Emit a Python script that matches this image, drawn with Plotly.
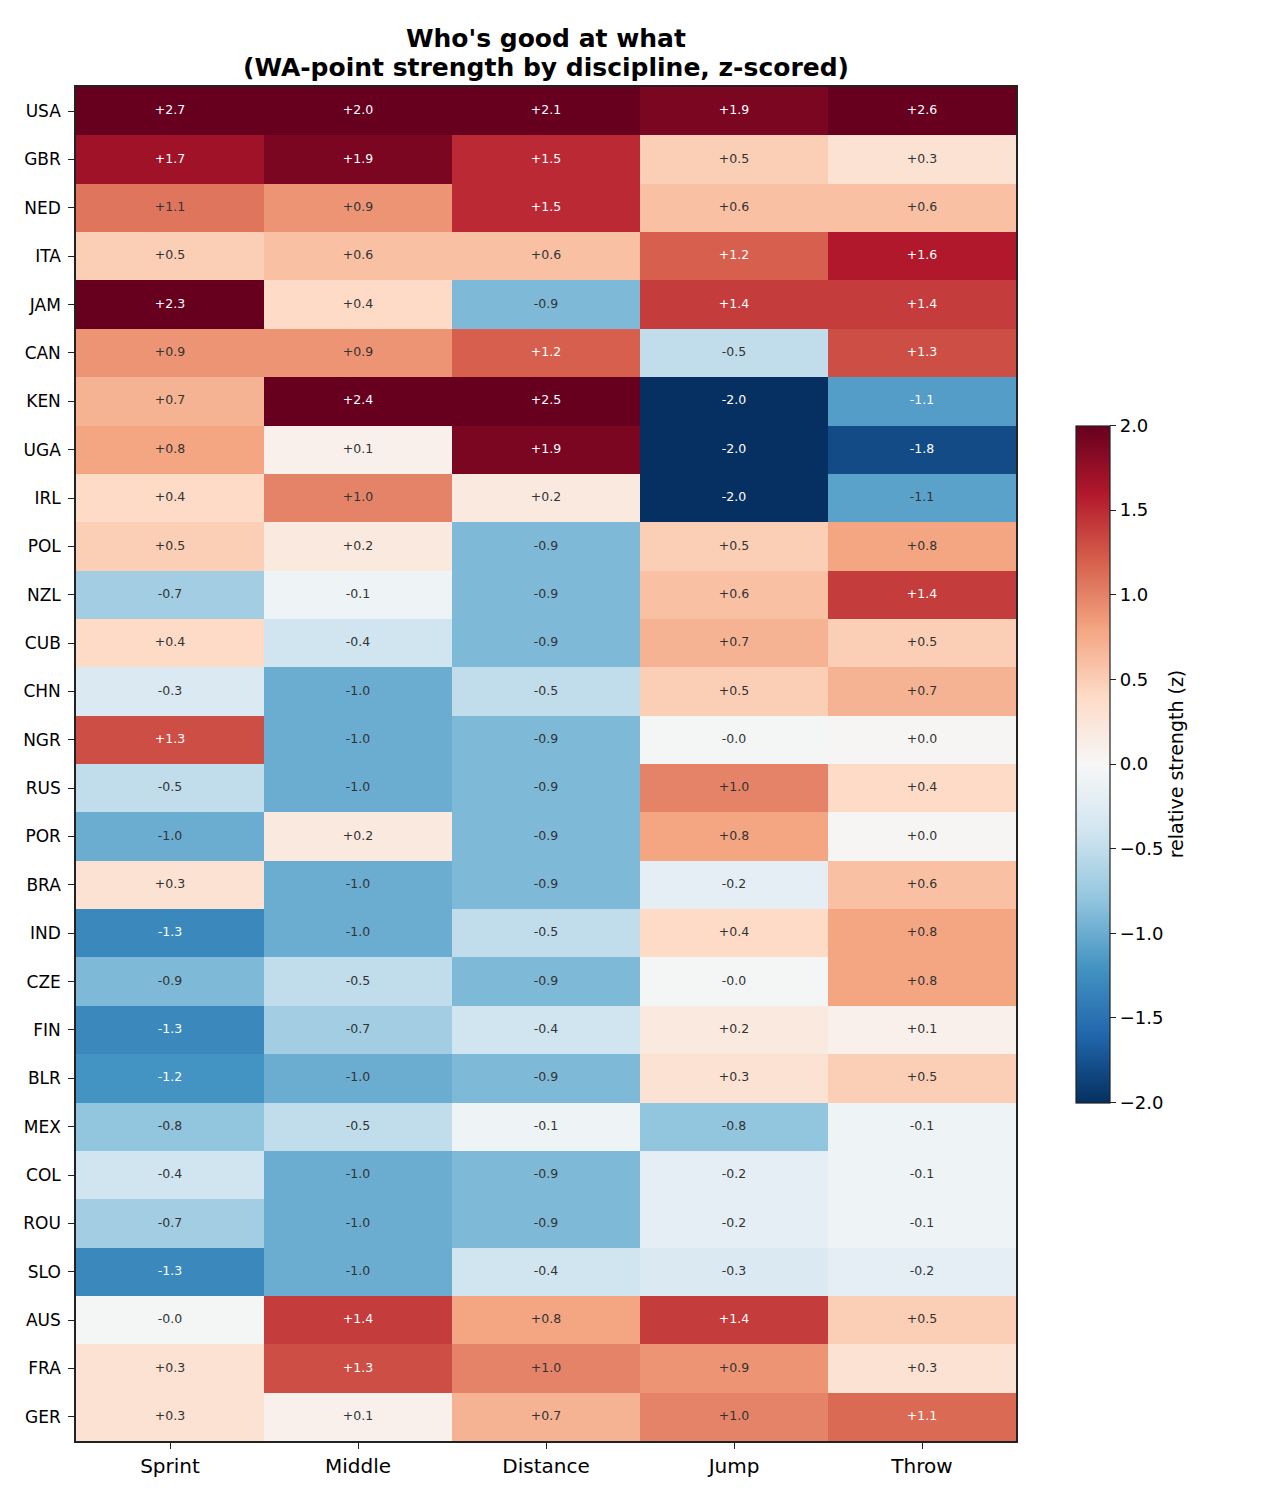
import plotly.graph_objects as go

countries = ["USA", "GBR", "NED", "ITA", "JAM", "CAN", "KEN", "UGA", "IRL", "POL",
             "NZL", "CUB", "CHN", "NGR", "RUS", "POR", "BRA", "IND", "CZE", "FIN",
             "BLR", "MEX", "COL", "ROU", "SLO", "AUS", "FRA", "GER"]
disciplines = ["Sprint", "Middle", "Distance", "Jump", "Throw"]

sprint = [2.7, 1.7, 1.08, 0.5, 2.3, 0.9, 0.7, 0.8, 0.4, 0.5,
          -0.7, 0.4, -0.3, 1.3, -0.5, -1.0, 0.3, -1.3, -0.9, -1.3,
          -1.2, -0.8, -0.4, -0.7, -1.3, -0.03, 0.3, 0.3]
middle = [2.0, 1.9, 0.9, 0.6, 0.4, 0.9, 2.4, 0.1, 1.0, 0.2,
          -0.1, -0.4, -1.0, -1.0, -1.0, 0.2, -1.0, -1.0, -0.5, -0.7,
          -1.0, -0.5, -1.0, -1.0, -1.0, 1.4, 1.3, 0.1]
distance = [2.1, 1.5, 1.5, 0.6, -0.9, 1.2, 2.5, 1.9, 0.2, -0.9,
            -0.9, -0.9, -0.5, -0.9, -0.9, -0.9, -0.9, -0.5, -0.9, -0.4,
            -0.9, -0.1, -0.9, -0.9, -0.4, 0.8, 1.0, 0.7]
jump = [1.9, 0.5, 0.6, 1.2, 1.4, -0.5, -2.0, -2.0, -2.0, 0.5,
        0.6, 0.7, 0.5, -0.03, 1.0, 0.8, -0.2, 0.4, -0.03, 0.2,
        0.3, -0.8, -0.2, -0.2, -0.3, 1.4, 0.9, 1.0]
throw = [2.6, 0.3, 0.6, 1.6, 1.4, 1.3, -1.12, -1.8, -1.08, 0.8,
         1.4, 0.5, 0.7, 0.03, 0.4, 0.03, 0.6, 0.8, 0.8, 0.1,
         0.5, -0.1, -0.1, -0.1, -0.2, 0.5, 0.3, 1.14]

columns = [sprint, middle, distance, jump, throw]
z = [[columns[j][i] for j in range(len(disciplines))] for i in range(len(countries))]

rdbu_r = ["#053061", "#2166ac", "#4393c3", "#92c5de", "#d1e5f0", "#f7f7f7",
          "#fddbc7", "#f4a582", "#d6604d", "#b2182b", "#67001f"]
colorscale = [[k / 10, c] for k, c in enumerate(rdbu_r)]

FONT = "DejaVu Sans"

fig = go.Figure()
fig.add_trace(go.Heatmap(
    z=z, x=disciplines, y=countries,
    colorscale=colorscale, zmin=-2, zmax=2,
    hoverinfo="skip",
    colorbar=dict(
        x=1000 / 940, xanchor="left", xref="paper", xpad=0, ypad=0,
        y=0.5, yanchor="middle", len=677 / 1354, lenmode="fraction",
        thickness=34, outlinewidth=1.2, outlinecolor="#222",
        ticks="outside", ticklen=6, tickwidth=1.2, tickcolor="#222",
        tickvals=[-2, -1.5, -1, -0.5, 0, 0.5, 1, 1.5, 2],
        tickformat=".1f", tickprefix="\u00a0",
        tickfont=dict(family=FONT, size=18, color="black"),
        title=dict(text="relative strength (z)", side="right",
                   font=dict(family=FONT, size=19, color="black")),
    ),
))

# cell annotations
tx, ty, tt, tc = [], [], [], []
for i, c in enumerate(countries):
    for j, d in enumerate(disciplines):
        v = z[i][j]
        tx.append(d)
        ty.append(c)
        tt.append(f"{v:+.1f}")
        tc.append("white" if abs(v) > 1.1 else "#333333")

fig.add_trace(go.Scatter(
    x=tx, y=ty, text=tt, mode="text",
    textfont=dict(family=FONT, size=12.5, color=tc),
    hoverinfo="skip", showlegend=False,
))

axis_common = dict(showgrid=False, zeroline=False, showline=True, mirror=True,
                   linecolor="#222", linewidth=1.5, ticks="outside", ticklen=6,
                   tickwidth=1.2, tickcolor="#222")

fig.update_xaxes(**axis_common, tickfont=dict(family=FONT, size=20, color="black"),
                 range=[-0.5, len(disciplines) - 0.5])
fig.update_yaxes(**axis_common, tickfont=dict(family=FONT, size=17, color="black"),
                 range=[len(countries) - 0.5, -0.5], ticklabelstandoff=4)

fig.add_annotation(text="<b>Who's good at what</b>", xref="paper", yref="paper",
                   x=0.5, y=1 + 48 / 1354, xanchor="center", yanchor="middle",
                   showarrow=False, font=dict(family=FONT, size=25, color="black"))
fig.add_annotation(text="<b>(WA-point strength by discipline, z-scored)</b>",
                   xref="paper", yref="paper",
                   x=0.5, y=1 + 20 / 1354, xanchor="center", yanchor="middle",
                   showarrow=False, font=dict(family=FONT, size=25, color="black"))

fig.update_layout(
    width=1275, height=1500,
    margin=dict(l=76, r=259, t=87, b=59),
    paper_bgcolor="white", plot_bgcolor="white",
    font=dict(family=FONT, color="black"),
    showlegend=False,
)

fig.write_html("out.html")
